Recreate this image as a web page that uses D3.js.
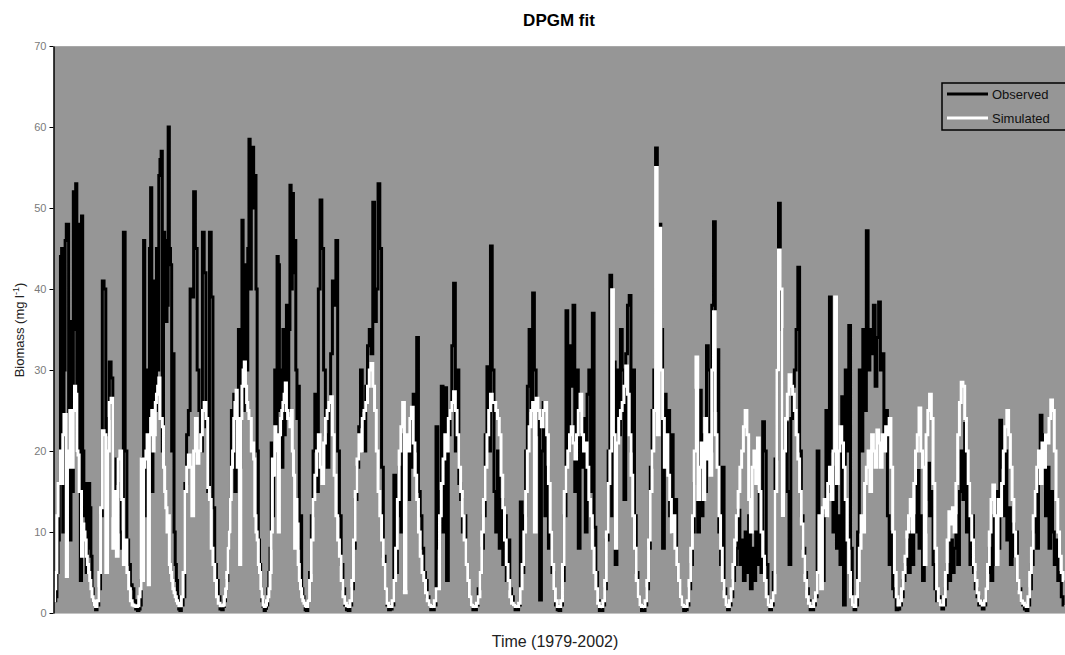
<!DOCTYPE html>
<html>
<head>
<meta charset="utf-8">
<script src="https://cdn.jsdelivr.net/npm/d3@7"></script>
<style>
  body { margin: 0; background: #fff; }
  svg { display: block; }
</style>
</head>
<body>
<svg id="chart" width="1065" height="655"></svg>
<script>
// readings per year, 1979-2002 (busy years were sampled more often)
const years = d3.range(1979, 2003);

const observed = [
  [2, 1.5, 2, 5, 9, 16, 44, 45, 10, 30, 46, 48, 48, 20, 9, 36, 15, 52, 35, 53, 20, 47, 48, 4, 49, 20, 12, 16, 5, 8, 16, 13, 7, 3, 1.5, 1],
  [0.4, 1, 3, 12, 41, 40, 22, 24, 31, 29, 12, 19, 16, 14, 10, 8, 47, 20, 9, 6, 3.5, 3, 1.5, 0.5],
  [0.3, 0.5, 1, 4, 19, 46, 22, 12, 30, 20, 45, 52.5, 15, 41, 40, 25, 45, 30, 54, 56, 57, 20, 47, 46, 36, 38, 60, 45, 43, 20, 32, 10, 6, 4, 2, 0.5],
  [0.3, 1, 2, 16, 22, 25, 40, 39, 52, 45, 30, 25, 20, 47, 42, 23, 15, 47, 39, 13, 6, 4, 2, 0.5],
  [0.4, 0.8, 1.5, 3, 4, 8, 10, 14, 25, 20, 27, 15, 20, 22, 35, 18, 30, 48.5, 25, 43, 40, 30, 45, 58.5, 40, 56, 57.5, 50, 54, 40, 20, 9, 6, 3, 1.5, 0.8],
  [0.3, 0.6, 1, 3, 5, 8, 21, 12, 17, 30, 20, 44, 43, 25, 30, 18, 35, 22, 30, 38, 25, 35, 52.8, 40, 51.8, 42, 46, 30, 24, 28, 8, 12, 3, 2, 1.5, 0.4],
  [0.3, 1.5, 5, 12, 20, 27, 15, 40, 51, 45, 30, 22, 18, 25, 32, 41, 38, 46, 20, 12, 6, 3, 1, 0.4],
  [0.3, 1, 3, 8, 14, 18, 23, 30, 25, 20, 28, 33, 35, 32, 50.7, 36, 40, 53, 45, 18, 7, 3, 1, 0.4],
  [0.5, 1, 17, 5, 12, 18, 10, 22, 3, 20, 14, 24, 18, 27, 20, 34, 15, 12, 8, 5, 4, 2, 1, 0.4],
  [0.4, 1, 23, 8, 15, 28, 10, 27.8, 4, 22, 25, 33, 40.7, 20, 30, 16, 14, 10, 12, 6, 4, 2, 1, 0.4],
  [0.4, 1, 3, 5, 8, 12, 22, 30.4, 20, 45.3, 30, 15, 10, 20, 8, 14, 6, 12, 4, 9, 3, 2, 1, 0.4],
  [0.4, 1, 13.7, 5, 12, 20, 28, 35, 25, 39.5, 30, 22, 25, 1.6, 20, 26, 12, 18, 8, 10, 5, 3, 1, 0.4],
  [0.3, 1, 4, 12, 37.3, 20, 33, 28, 38, 15, 30, 8, 22, 18, 24, 10, 27, 30, 15, 37, 10.6, 5, 1.5, 0.3],
  [0.3, 1, 3, 9, 20, 41.7, 12, 31, 6, 30, 22, 35, 30, 14, 32, 38, 39.2, 20, 30, 12, 5, 2, 1, 0.3],
  [0.3, 1, 3, 8, 18, 25, 30, 57.4, 33, 48, 35, 8, 27, 20, 25, 12, 22, 10, 14, 6, 4, 2, 1, 0.3],
  [0.4, 1, 3, 6, 10, 16, 27.5, 10, 27.5, 12, 22, 15, 33, 30, 20, 38, 48.3, 25, 32.5, 10, 6, 18, 3, 1],
  [0.4, 1, 2, 4, 6, 8, 12.7, 6, 9, 4, 10, 5, 12, 3, 8, 4, 10, 6, 15, 5, 23.6, 20, 6, 1],
  [0.4, 1, 5, 19, 30, 50.6, 35, 12, 20, 23.5, 15, 6, 24, 28, 30, 35, 42.7, 20, 12, 8, 5, 3, 1.5, 0.4],
  [0.4, 1, 2, 20, 8, 10, 4, 12, 25, 15, 39, 20, 10, 18, 8, 12, 6, 26.7, 1, 30, 20, 35.5, 8, 1],
  [0.4, 1, 10, 30, 20, 35, 25, 47.2, 30, 35, 32, 38, 28, 34, 38.4, 30, 32, 22, 25, 12, 6, 10, 3, 2],
  [0.4, 0.5, 1, 2, 4, 6, 9, 5, 10, 6, 12, 10, 17.6, 8, 12, 4, 10, 14, 18.5, 12, 15, 6, 3, 1.5],
  [2, 1, 0.5, 1, 3, 6, 4, 9, 5, 8, 12, 6, 15, 20, 14, 23.4, 10, 16, 6, 12, 5, 3, 2, 1],
  [1.5, 0.5, 1, 3, 5, 8, 4, 12, 6, 15, 8, 23.8, 18, 12, 20, 9, 13, 6, 11, 7, 10, 4, 3, 1.5],
  [1, 0.5, 0.3, 1, 3, 6, 10, 15, 8, 18, 24.4, 20, 22, 12, 18, 8, 15, 10, 6, 9, 4, 5, 2, 1]
];

const simulated = [
  [1.5, 3, 5, 12, 16, 16, 20, 16, 22, 24.5, 24.5, 4.5, 20, 18, 25, 25, 18, 25, 28, 27, 20, 19.5, 15, 15, 7, 11, 10, 9, 7, 6, 5, 4, 3, 2, 1.5, 1],
  [0.8, 1.5, 5, 13, 22.5, 22, 5, 20, 26, 26.5, 8, 15, 7, 19, 20, 14, 6, 9, 5, 3, 1.5, 1, 0.9, 0.8],
  [0.9, 2, 3, 19, 4, 18, 19, 20, 22, 3.5, 22, 24, 25, 20, 22, 26, 27, 28, 29, 24, 24, 23, 18, 15, 13, 10, 12, 6, 5, 4, 3, 2.5, 2, 1.5, 1.2, 0.9],
  [0.9, 2, 5, 15, 18, 19.5, 18, 12, 20, 24, 18.5, 20, 22, 25, 26, 24, 15.5, 14, 8, 6, 4, 2, 1.2, 0.9],
  [0.9, 1, 2, 3, 5, 8, 10, 14, 18, 20, 24, 26, 27.5, 18, 24, 6, 24, 28, 30, 31, 28, 26, 25, 24, 24, 20, 21, 19, 12, 10, 9, 6, 5, 3, 2, 1],
  [0.8, 1, 1.5, 2, 3, 5, 10, 19, 17, 23, 20, 22, 10, 22, 24, 25, 26, 27, 28.4, 25, 24, 24, 23, 25, 20, 17, 8, 14, 11, 6, 4, 3, 2, 1.5, 1.2, 0.9],
  [0.8, 1.5, 4, 9, 14, 17, 20, 22, 18, 16, 21, 24, 25, 26, 26.7, 22, 17, 12, 9, 7, 4, 2, 1.2, 0.9],
  [0.8, 1.5, 4, 9, 15, 19, 22, 20, 24, 25, 26, 28, 30, 30.8, 28, 25, 20, 15, 12, 9, 6, 3, 1.2, 0.8],
  [0.8, 1.5, 4, 8, 14, 20, 23, 26, 2.5, 22, 20, 24, 25.4, 21, 17, 14, 10, 7, 5, 4, 2.5, 1.5, 1, 0.8],
  [0.8, 1.5, 3, 3, 12, 16, 19, 22, 20, 24, 25, 26, 27.3, 25, 22, 18, 15, 12, 9, 6, 4, 2, 1, 0.8],
  [0.8, 1.2, 2, 5, 10, 14, 18, 22, 25, 27, 26, 26, 25, 24, 22, 17, 13, 9, 6, 4, 2, 1.2, 1, 0.8],
  [0.8, 1.2, 3, 6, 10, 15, 20, 23, 25, 26, 10, 26.5, 25, 24, 23, 25, 26, 22, 16, 10, 6, 3, 1.5, 0.8],
  [0.8, 1.5, 6, 15, 18, 20, 22, 23, 21, 19, 22, 25, 27, 22, 20, 21, 18, 14, 12, 8, 5, 3, 1.2, 0.8],
  [0.8, 1.5, 4, 10, 16, 20, 39.9, 22, 8, 21, 24, 25, 26, 28, 30.5, 27, 22, 17, 12, 8, 4, 2, 1, 0.8],
  [0.8, 1.5, 4, 9, 15, 20, 25, 55, 22, 47.5, 30, 24, 18, 22, 17, 14, 10, 12, 8, 6, 4, 2, 1, 0.8],
  [0.8, 1.5, 4, 8, 12, 20, 31.6, 14, 18, 21, 14, 24, 19, 22, 17, 30, 37.2, 22, 18, 12, 8, 4, 2, 1],
  [0.8, 1.5, 3, 6, 9, 12, 15, 18, 20, 23, 25, 22, 14, 10, 18, 20, 16, 21.6, 15, 10, 7, 4, 2, 1],
  [0.8, 1.5, 2.5, 15, 30, 44.8, 40, 12, 20, 24, 27, 29.4, 28, 27, 25, 22, 19, 15, 11, 7, 4, 2, 1.2, 0.8],
  [0.8, 1.5, 2.5, 5, 12, 3, 13, 14, 12, 16, 18, 14, 20, 39, 16, 20, 23, 21, 18, 14, 9, 5, 2, 1],
  [0.8, 2, 4, 8, 12, 10, 16, 18, 20, 15, 22, 20, 18, 22.6, 21, 18, 22, 20, 23, 22, 24, 18, 10, 5],
  [2, 1, 1.5, 3, 5, 7, 10, 12, 14, 10, 16, 20, 22, 25.3, 20, 18, 6, 22, 25, 27, 24, 16, 8, 3],
  [1.5, 1, 1, 2, 5, 9, 12.5, 11, 13, 10, 16, 22, 26, 28.5, 28, 24, 20, 16, 12, 9, 6, 4, 2.5, 1.5],
  [1.2, 1, 1.5, 3, 6, 10, 14, 15.8, 12, 6, 14, 12, 16, 20, 23, 25, 22, 18, 14, 10, 7, 4, 2.5, 1.5],
  [1.2, 1, 0.8, 2, 5, 8, 12, 15, 18, 20, 16, 21, 18, 22, 21, 24, 26.3, 25, 20, 14, 10, 7, 5, 4]
];

const yTicks = [0, 10, 20, 30, 40, 50, 60, 70];
const legendItems = ["Observed", "Simulated"];

// flatten into {t, v} points, spreading each year's readings evenly
function toPoints(series) {
  return series.flatMap((row, k) =>
    row.map((v, i) => ({ t: years[k] + i / row.length, v: v })));
}
const obsPts = toPoints(observed);
const simPts = toPoints(simulated);

const svg = d3.select("#chart");
const mLeft = 54, mRight = 1065, mTop = 46, mBottom = 613;
const font = "Liberation Sans, Arial, sans-serif";

const x = d3.scaleLinear().domain([1979, 2002.96]).range([mLeft, mRight - 1]);
const y = d3.scaleLinear().domain([0, 70]).range([mBottom, mTop]);

// plot background
svg.append("rect")
  .attr("x", mLeft).attr("y", mTop)
  .attr("width", mRight - mLeft).attr("height", mBottom - mTop)
  .attr("fill", "#969696");
svg.append("line")
  .attr("x1", mLeft).attr("x2", mRight).attr("y1", mTop + 0.5).attr("y2", mTop + 0.5)
  .attr("stroke", "#a8a8a8");
svg.append("line")
  .attr("x1", mLeft).attr("x2", mRight).attr("y1", mBottom + 0.5).attr("y2", mBottom + 0.5)
  .attr("stroke", "#c4c4c4");

svg.append("clipPath").attr("id", "plotclip")
  .append("rect").attr("x", mLeft).attr("y", mTop)
  .attr("width", mRight - mLeft).attr("height", mBottom - mTop + 2);

const line = d3.line().curve(d3.curveStep).x(d => x(d.t)).y(d => y(d.v));

const plot = svg.append("g").attr("clip-path", "url(#plotclip)");
plot.append("path").datum(obsPts)
  .attr("d", line).attr("fill", "none")
  .attr("stroke", "#000").attr("stroke-width", 3);
plot.append("path").datum(simPts)
  .attr("d", line).attr("fill", "none")
  .attr("stroke", "#fff").attr("stroke-width", 3);

// y axis
const yAxis = svg.append("g")
  .attr("transform", `translate(${mLeft - 0.5},0)`)
  .call(d3.axisLeft(y).tickValues(yTicks).tickSize(4).tickSizeOuter(0));
yAxis.select(".domain").attr("stroke", "#000").attr("stroke-width", 1.5);
yAxis.selectAll(".tick line").attr("stroke", "#000");
yAxis.selectAll(".tick text")
  .attr("font-family", font)
  .attr("font-size", 11).attr("fill", "#7a7a7a").attr("x", -7);

// titles
svg.append("text")
  .attr("x", 559).attr("y", 26).attr("text-anchor", "middle")
  .attr("font-family", font)
  .attr("font-size", 17).attr("font-weight", "bold").text("DPGM fit");

svg.append("text")
  .attr("x", 555).attr("y", 647).attr("text-anchor", "middle")
  .attr("font-family", font)
  .attr("font-size", 16).attr("fill", "#222").text("Time (1979-2002)");

const yl = svg.append("text")
  .attr("transform", "translate(24,330) rotate(-90)")
  .attr("text-anchor", "middle")
  .attr("font-family", font)
  .attr("font-size", 13).attr("fill", "#222");
yl.append("tspan").text("Biomass (mg l");
yl.append("tspan").attr("font-size", 9).attr("dy", -5).text("-1");
yl.append("tspan").attr("dy", 5).text(")");

// legend
const lg = svg.append("g").attr("transform", "translate(942,83)");
lg.append("rect").attr("width", 130).attr("height", 47)
  .attr("fill", "#969696").attr("stroke", "#000").attr("stroke-width", 1.5);
legendItems.forEach((name, i) => {
  const yy = 11 + i * 24;
  lg.append("line").attr("x1", 5).attr("x2", 46).attr("y1", yy).attr("y2", yy)
    .attr("stroke", i === 0 ? "#000" : "#fff").attr("stroke-width", 3);
  lg.append("text").attr("x", 50).attr("y", yy + 5)
    .attr("font-family", font)
    .attr("font-size", 13).attr("fill", "#111").text(name);
});
</script>
</body>
</html>
